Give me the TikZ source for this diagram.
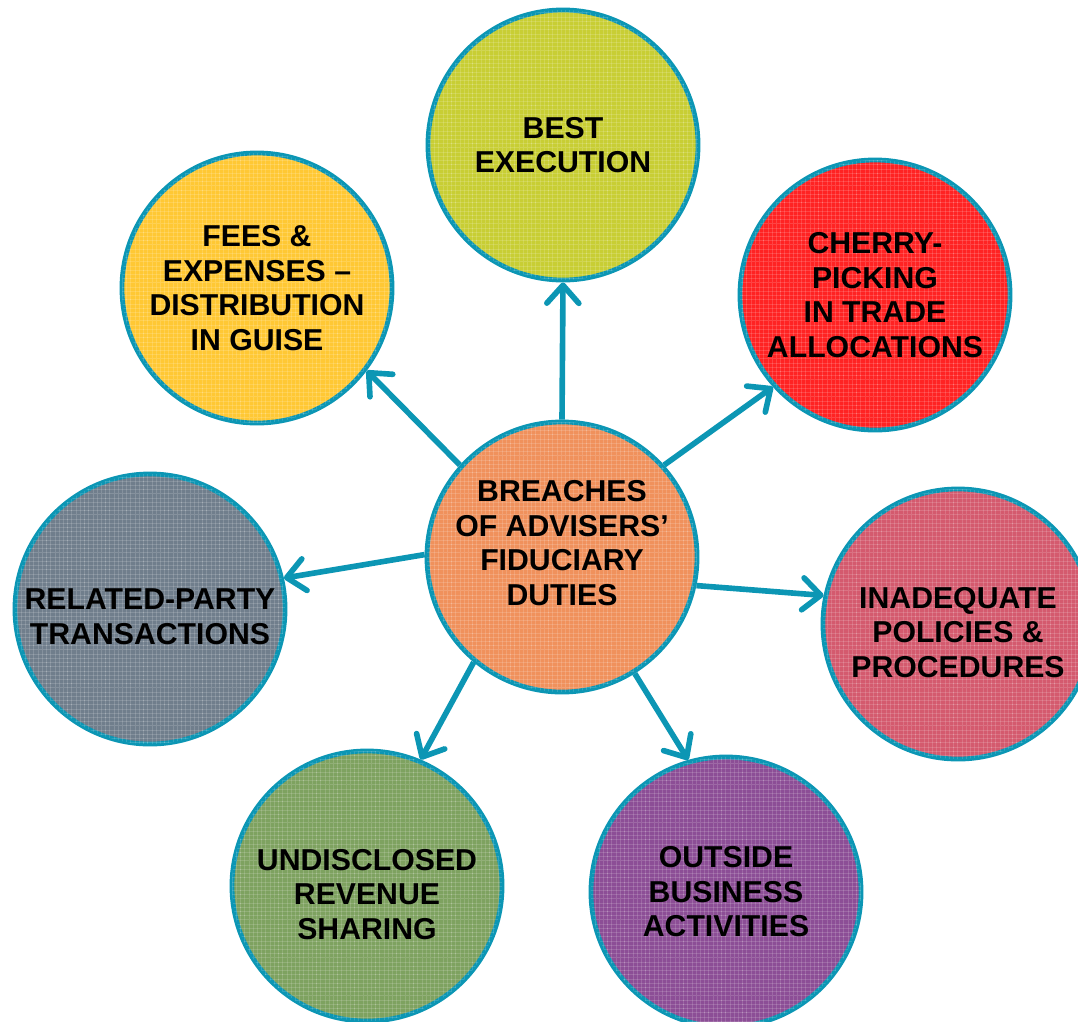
\documentclass[tikz,border=0pt]{standalone}
\usepackage{fontspec}
\setmainfont{Liberation Sans}
\usetikzlibrary{arrows.meta,patterns,positioning}
\usepackage{xcolor}

\definecolor{rim}{RGB}{12,150,180}
\definecolor{hubcol}{RGB}{240,145,92}
\definecolor{bestcol}{RGB}{200,206,52}
\definecolor{feescol}{RGB}{255,200,52}
\definecolor{cherrycol}{RGB}{255,35,35}
\definecolor{relcol}{RGB}{112,126,140}
\definecolor{inadcol}{RGB}{212,90,110}
\definecolor{undiscol}{RGB}{126,162,96}
\definecolor{outcol}{RGB}{140,78,150}

\begin{document}
\begin{tikzpicture}[x=0.025cm,y=-0.025cm,
    topic/.style={circle,draw=rim,line width=3.4pt,minimum size=6.75cm,inner sep=0pt,
        align=center,font=\fontsize{21.5}{24.5}\selectfont\bfseries,
        postaction={pattern=grid,pattern color=white,opacity=0.15}},
    link/.style={draw=rim,line width=4pt,-{Straight Barb[length=4.5mm,width=8mm,round]}}]
    \useasboundingbox (0,0) rectangle (1078,1021);

    \node[topic,fill=hubcol,text depth=0.7cm] (hub) at (562,557) {BREACHES\\OF ADVISERS’\\FIDUCIARY\\DUTIES};

    \node[topic,fill=bestcol] (best) at (563,145) {BEST\\EXECUTION};
    \node[topic,fill=feescol] (fees) at (257,288) {FEES \&\\EXPENSES --\\DISTRIBUTION\\IN GUISE};
    \node[topic,fill=cherrycol] (cherry) at (875,295) {CHERRY-\\PICKING\\IN TRADE\\ALLOCATIONS};
    \node[topic,fill=relcol,text height=50pt] (related) at (150,609) {RELATED-PARTY\\TRANSACTIONS};
    \node[topic,fill=inadcol,text height=76pt] (inadequate) at (958,624) {INADEQUATE\\POLICIES \&\\PROCEDURES};
    \node[topic,fill=undiscol,text height=76pt] (undisclosed) at (367,886) {UNDISCLOSED\\REVENUE\\SHARING};
    \node[topic,fill=outcol] (outside) at (726,892) {OUTSIDE\\BUSINESS\\ACTIVITIES};

    % spokes
    \draw[link] (hub.90) -- (best.-90);
    \draw[link] (hub.138) -- (fees.-37);
    \draw[link] (hub.42) -- (cherry.-138);
    \draw[link] (hub.179) -- (related.13);
    \draw[link] (hub.-12) -- (inadequate.168);
    \draw[link] (hub.-130) -- (undisclosed.67);
    \draw[link] (hub.-58) -- (outside.106);
\end{tikzpicture}
\end{document}
